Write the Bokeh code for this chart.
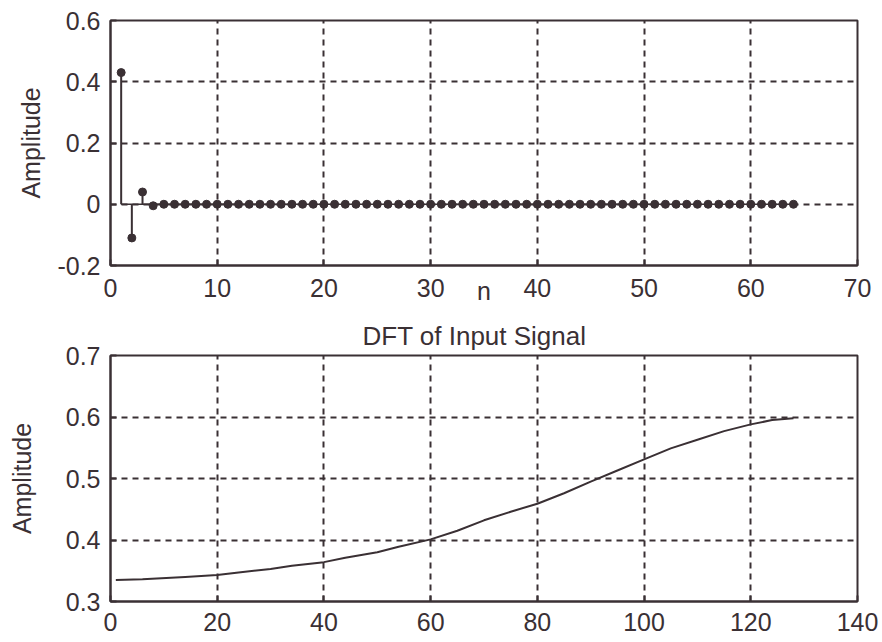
from bokeh.plotting import figure
from bokeh.layouts import column
from bokeh.models import Range1d, FixedTicker
from bokeh.embed import file_html
from bokeh.resources import INLINE

# ---------------- data ----------------
# top: impulse response samples h[n], n = 1..64
n_idx = list(range(1, 65))
h_vals = [0.43, -0.11, 0.04, -0.005,
          0, 0, 0, 0, 0, 0, 0, 0, 0, 0, 0, 0, 0, 0, 0, 0,
          0, 0, 0, 0, 0, 0, 0, 0, 0, 0, 0, 0, 0, 0, 0, 0,
          0, 0, 0, 0, 0, 0, 0, 0, 0, 0, 0, 0, 0, 0, 0, 0,
          0, 0, 0, 0, 0, 0, 0, 0, 0, 0, 0, 0]

# bottom: DFT magnitude read at sample bins
k_idx = [1, 6, 14, 20, 24, 30, 34, 40, 44, 50, 54, 60, 65, 70, 75, 80,
         85, 90, 95, 100, 105, 110, 115, 120, 124, 128]
dft_mag = [0.335, 0.336, 0.340, 0.343, 0.347, 0.353, 0.358, 0.364, 0.371,
           0.380, 0.389, 0.401, 0.415, 0.432, 0.446, 0.459, 0.476, 0.495,
           0.513, 0.531, 0.549, 0.563, 0.577, 0.588, 0.595, 0.598]

top_xticks = [0, 10, 20, 30, 40, 50, 60, 70]
top_yticks = [-0.2, 0, 0.2, 0.4, 0.6]
top_ylabels = ["-0.2", "0", "0.2", "0.4", "0.6"]
bot_xticks = [0, 20, 40, 60, 80, 100, 120, 140]
bot_yticks = [0.3, 0.4, 0.5, 0.6, 0.7]
bot_ylabels = ["0.3", "0.4", "0.5", "0.6", "0.7"]

title_text = "DFT of Input Signal"
y_label = "Amplitude"
x_label_top = "n"

# ---------------- style ----------------
INK = "#3a3034"
FONT = "Liberation Sans"
FS = "25px"


def style(p, xticks, yticks, ylabels, xstand, ylab_stand):
    p.outline_line_color = INK
    p.outline_line_width = 2
    p.outline_line_alpha = 1
    p.background_fill_color = "white"
    p.border_fill_color = "white"
    p.xaxis.ticker = FixedTicker(ticks=xticks)
    p.yaxis.ticker = FixedTicker(ticks=yticks)
    p.yaxis.major_label_overrides = {t: s for t, s in zip(yticks, ylabels)}
    for ax in (p.xaxis[0], p.yaxis[0]):
        ax.axis_line_color = INK
        ax.axis_line_width = 2
        ax.major_tick_in = 6
        ax.major_tick_out = 0
        ax.major_tick_line_color = INK
        ax.major_tick_line_width = 2
        ax.minor_tick_line_color = None
        ax.major_label_text_font = FONT
        ax.major_label_text_font_size = FS
        ax.major_label_text_color = INK
        ax.axis_label_text_font = FONT
        ax.axis_label_text_font_size = FS
        ax.axis_label_text_font_style = "normal"
        ax.axis_label_text_color = INK
    p.xaxis.major_label_standoff = xstand
    p.yaxis.major_label_standoff = 10
    p.yaxis.axis_label = y_label
    p.yaxis.axis_label_standoff = ylab_stand
    for g in (p.xgrid[0], p.ygrid[0]):
        g.grid_line_color = INK
        g.grid_line_width = 2
        g.grid_line_dash = "6 5"
        g.grid_line_alpha = 1


# ---------------- top plot ----------------
p1 = figure(width=882, height=313, output_backend="svg", toolbar_location=None,
            x_range=Range1d(0, 70), y_range=Range1d(-0.2, 0.6),
            min_border_left=110, min_border_right=25,
            min_border_top=20, min_border_bottom=48)
style(p1, top_xticks, top_yticks, top_ylabels, 13, 9)
p1.xaxis.axis_label = x_label_top
p1.xaxis.axis_label_standoff = -23

p1.segment(x0=n_idx[0], y0=0, x1=n_idx[-1], y1=0, line_color=INK, line_width=1.5)
p1.segment(x0=n_idx, y0=[0] * len(n_idx), x1=n_idx, y1=h_vals,
           line_color=INK, line_width=2)
p1.scatter(n_idx, h_vals, size=8, marker="circle", fill_color=INK, line_color=INK)

# ---------------- bottom plot ----------------
p2 = figure(width=882, height=329, output_backend="svg", toolbar_location=None,
            x_range=Range1d(0, 140), y_range=Range1d(0.3, 0.7),
            min_border_left=110, min_border_right=25,
            min_border_top=41, min_border_bottom=41,
            title=title_text)
style(p2, bot_xticks, bot_yticks, bot_ylabels, 11, 27)
p2.title.text_font = FONT
p2.title.text_font_size = "26px"
p2.title.text_font_style = "normal"
p2.title.text_color = INK
p2.title.align = "left"
p2.title.standoff = 10
p2.title.offset = 252

p2.line(k_idx, dft_mag, line_color=INK, line_width=2)

layout = column(p1, p2, spacing=0)
open("out.html", "w").write(file_html(layout, INLINE))
